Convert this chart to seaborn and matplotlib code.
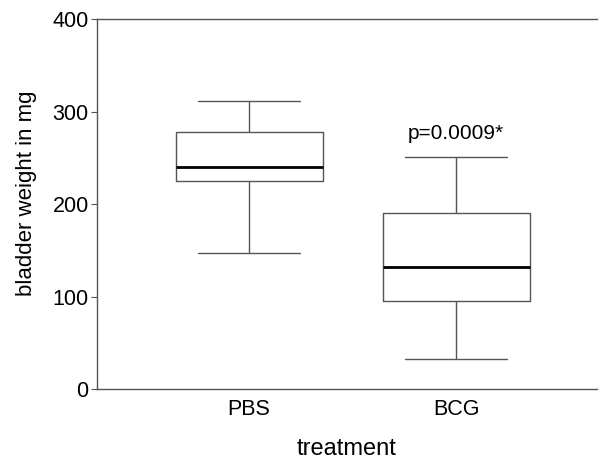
import matplotlib
matplotlib.use("Agg")
import matplotlib.pyplot as plt
import seaborn as sns
import pandas as pd

treatments = ["PBS", "BCG"]
pbs_values = [147, 225, 240, 278, 311]   # min, Q1, median, Q3, max
bcg_values = [32, 95, 132, 190, 251]
p_label = "p=0.0009*"
y_ticks = [0, 100, 200, 300, 400]

sns.set_style("white")
plt.rcParams['font.family'] = ['Liberation Sans', 'DejaVu Sans']
plt.rcParams['text.color'] = 'black'
plt.rcParams['axes.labelcolor'] = 'black'
plt.rcParams['xtick.color'] = 'black'
plt.rcParams['ytick.color'] = 'black'

df = pd.DataFrame({
    "treatment": ["PBS"] * len(pbs_values) + ["BCG"] * len(bcg_values),
    "weight": pbs_values + bcg_values,
})

fig = plt.figure(figsize=(6.03, 4.59), dpi=100)
ax = fig.add_axes([0.161, 0.1525, 0.829, 0.806])

line_c = "#555555"
sns.boxplot(data=df, x="treatment", y="weight", order=treatments, ax=ax,
            whis=(0, 100), width=0.71, fill=False, color=line_c, linewidth=1.0,
            capwidths=0.49,
            medianprops=dict(color="black", linewidth=2.0))

ax.set_xlim(-0.734, 1.68)
ax.set_ylim(0, 400)
ax.set_yticks(y_ticks)
ax.tick_params(axis="y", labelsize=15.5, left=True, length=4, width=0.8, color=line_c,
               labelcolor="black", pad=2)
ax.tick_params(axis="x", labelsize=15.5, bottom=False, labelcolor="black", pad=4)
for s in ["left", "bottom", "top"]:
    ax.spines[s].set_color(line_c)
    ax.spines[s].set_linewidth(1.0)
ax.spines["right"].set_visible(False)

ax.set_xlabel("treatment", fontsize=17, labelpad=13, color="black")
ax.set_ylabel("bladder weight in mg", fontsize=16, labelpad=11, color="black")
ax.yaxis.set_label_coords(-0.12, 0.53)

ax.text(1, 276, p_label, ha="center", va="center", fontsize=15, color="black")

fig.savefig("out.png", dpi=100)
